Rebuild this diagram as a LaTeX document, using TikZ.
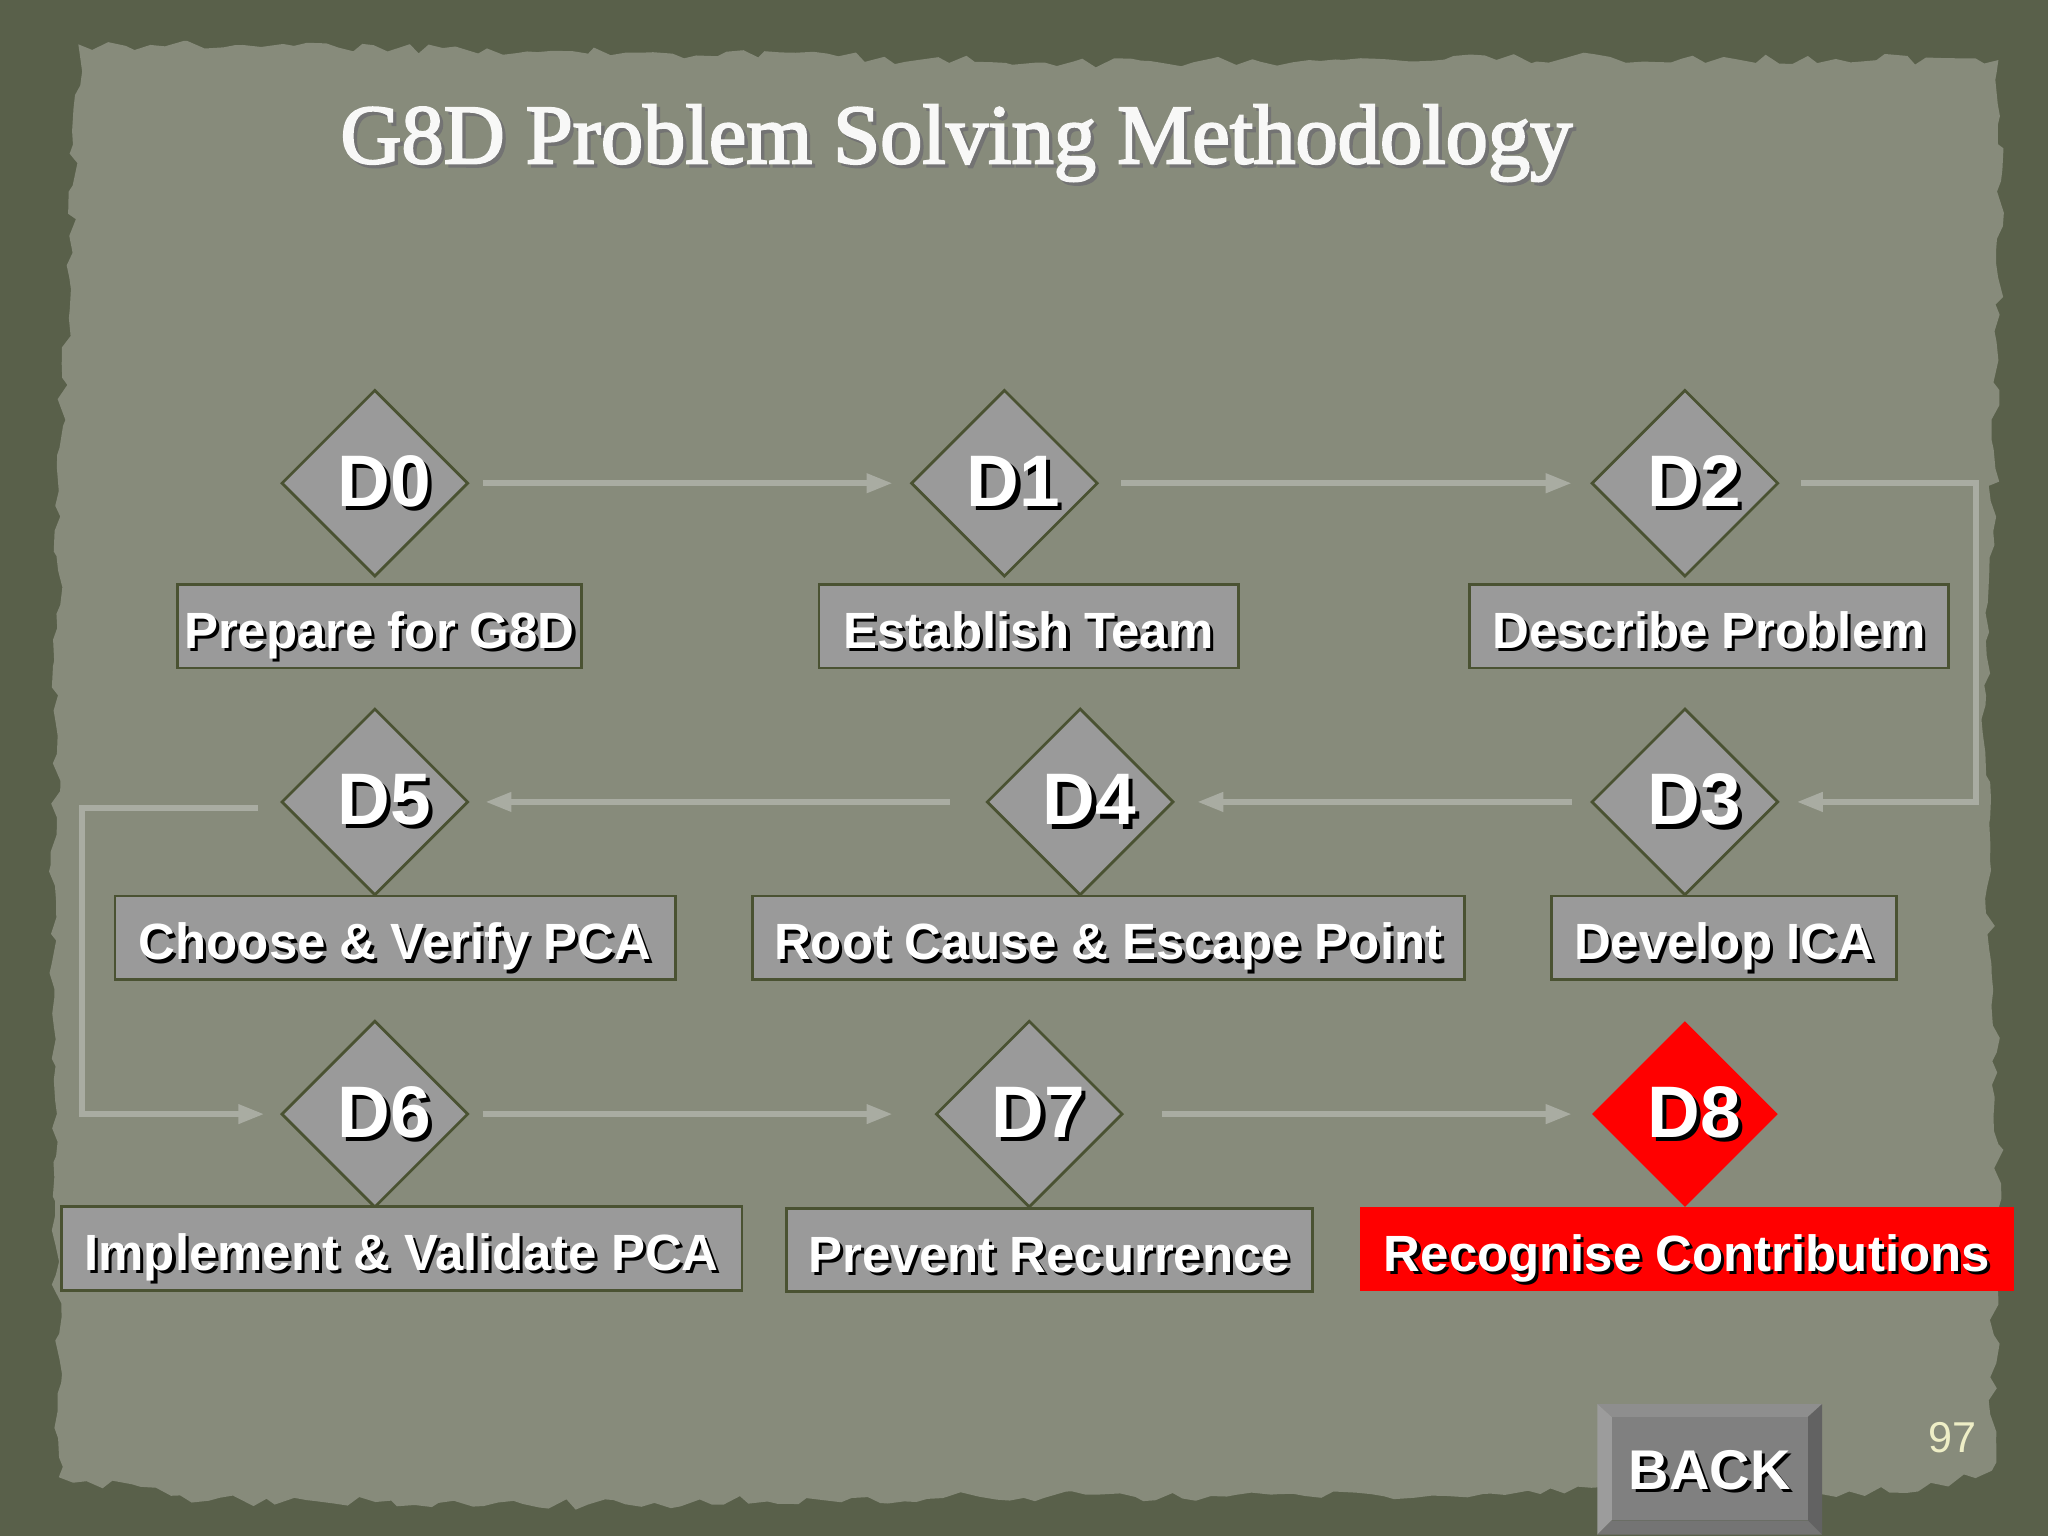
\documentclass[tikz,border=0pt]{standalone}
\usepackage{fontspec}
\setmainfont{Liberation Serif}
\setsansfont{Liberation Sans}
\newfontfamily\titlefont[FakeBold=2.5]{Liberation Serif}
\usetikzlibrary{shapes.geometric,arrows.meta,decorations.pathmorphing}

\definecolor{frame}{HTML}{59604A}
\definecolor{paper}{HTML}{878B7B}
\definecolor{boxgray}{HTML}{9A9A9A}
\definecolor{edge}{HTML}{4A5232}
\definecolor{flowgray}{HTML}{A9ACA2}
\definecolor{btnface}{HTML}{808080}
\definecolor{btntop}{HTML}{8E8E8E}
\definecolor{btnleft}{HTML}{9C9C9C}
\definecolor{btnright}{HTML}{626262}
\definecolor{btnbottom}{HTML}{747474}
\definecolor{pagenum}{HTML}{EEEEC6}

% white text with a dark drop shadow
\newcommand{\shd}[1]{\makebox[0pt][l]{\kern0.06em\raisebox{-0.06em}{\color{black}#1}}\color{white}#1}
\newcommand{\tshd}[1]{\makebox[0pt][l]{\kern0.04em\raisebox{-0.04em}{\color{black!55}#1}}\color{white!94!paper}#1}

\tikzset{
  dstep/.style={diamond, aspect=1, draw=edge, line width=0.6pt, fill=boxgray,
    minimum size=1.43cm, inner sep=0pt,
    font=\sffamily\bfseries\fontsize{15.9}{16}\selectfont,
    execute at begin node={\hspace{0.14cm}}},
  dlabel/.style={rectangle, draw=edge, line width=0.6pt, fill=boxgray,
    minimum height=0.64cm, inner sep=0pt, text height=0.34cm, text depth=0cm,
    font=\sffamily\bfseries\fontsize{11.1}{13}\selectfont},
  hot/.style={fill=red, draw=none},
  flow/.style={->, draw=flowgray, line width=1.3pt},
  >={Triangle[length=0.2cm,width=0.14cm]}
}

\begin{document}
\begin{tikzpicture}
\useasboundingbox (0,0) rectangle (15.68,11.76);

% background: dark frame and torn paper
\fill[frame] (0,0) rectangle (15.68,11.76);
\pgfmathsetseed{42}
\fill[paper, decorate, decoration={random steps,segment length=3pt,amplitude=1.2pt}]
  (0.45,0.45) -- (1.6,0.27) -- (4.5,0.24) -- (7.5,0.3) -- (10.5,0.32) -- (13,0.36)
  -- (14.6,0.33) -- (15.25,0.5) -- (15.3,3) -- (15.2,6) -- (15.3,9) -- (15.3,11.3)
  -- (12,11.32) -- (8,11.28) -- (5,11.36) -- (2,11.4) -- (0.6,11.42) -- (0.45,8)
  -- (0.4,4) -- cycle;

% title
\node (title) [anchor=base west, inner sep=0pt, font=\titlefont\fontsize{18.4}{20}\selectfont]
  at (2.60,10.51) {\tshd{G8D Problem Solving Methodology}};

% steps
\node (d0) [dstep] at (2.87,8.06) {\shd{D0}};
\node (d1) [dstep] at (7.69,8.06) {\shd{D1}};
\node (d2) [dstep] at (12.90,8.06) {\shd{D2}};
\node (d3) [dstep] at (12.90,5.62) {\shd{D3}};
\node (d4) [dstep] at (8.27,5.62) {\shd{D4}};
\node (d5) [dstep] at (2.87,5.62) {\shd{D5}};
\node (d6) [dstep] at (2.87,3.23) {\shd{D6}};
\node (d7) [dstep] at (7.88,3.23) {\shd{D7}};
\node (d8) [dstep,hot] at (12.90,3.23) {\shd{D8}};

% step names
\node (l0) [dlabel, minimum width=3.09cm] at (2.905,6.965) {\shd{Prepare for G8D}};
\node (l1) [dlabel, minimum width=3.21cm] at (7.875,6.965) {\shd{Establish Team}};
\node (l2) [dlabel, minimum width=3.67cm] at (13.085,6.965) {\shd{Describe Problem}};
\node (l3) [dlabel, minimum width=2.64cm] at (13.20,4.58) {\shd{Develop ICA}};
\node (l4) [dlabel, minimum width=5.45cm] at (8.485,4.58) {\shd{Root Cause \& Escape Point}};
\node (l5) [dlabel, minimum width=4.29cm] at (3.025,4.58) {\shd{Choose \& Verify PCA}};
\node (l6) [dlabel, minimum width=5.21cm] at (3.075,2.20) {\shd{Implement \& Validate PCA}};
\node (l7) [dlabel, minimum width=4.03cm] at (8.035,2.19) {\shd{Prevent Recurrence}};
\node (l8) [dlabel, hot, minimum width=5.01cm] at (12.915,2.195) {\shd{Recognise Contributions}};

% flow
\draw[flow, shorten <=0.10cm, shorten >=0.13cm] (d0) -- (d1);
\draw[flow, shorten <=0.17cm, shorten >=0.14cm] (d1) -- (d2);
\draw[flow, shorten <=0.16cm, shorten >=0.13cm] (d2.east) -- ++(1.5,0) |- (d3.east);
\draw[flow, shorten <=0.14cm, shorten >=0.17cm] (d3) -- (d4);
\draw[flow, shorten <=0.27cm, shorten >=0.12cm] (d4) -- (d5);
\draw[flow, shorten <=0.17cm, shorten >=0.12cm] ([yshift=-0.05cm]d5.west) -- ++(-1.52,0) |- (d6.west);
\draw[flow, shorten <=0.10cm, shorten >=0.32cm] (d6) -- (d7);
\draw[flow, shorten <=0.29cm, shorten >=0.14cm] (d7) -- (d8);

% back button
\fill[btntop] (12.23,1.01) -- (13.95,1.01) -- (13.84,0.91) -- (12.34,0.91) -- cycle;
\fill[btnleft] (12.23,1.01) -- (12.34,0.91) -- (12.34,0.12) -- (12.23,0.01) -- cycle;
\fill[btnright] (13.95,1.01) -- (13.95,0.01) -- (13.84,0.12) -- (13.84,0.91) -- cycle;
\fill[btnbottom] (12.23,0.01) -- (13.95,0.01) -- (13.84,0.12) -- (12.34,0.12) -- cycle;
\fill[btnface] (12.34,0.12) rectangle (13.84,0.91);
\node (back) [font=\sffamily\bfseries\fontsize{12.2}{13}\selectfont] at (13.09,0.49) {\shd{BACK}};

\node (pnum) [text=pagenum, font=\sffamily\fontsize{9.4}{10}\selectfont] at (14.945,0.75) {97};

\end{tikzpicture}
\end{document}
